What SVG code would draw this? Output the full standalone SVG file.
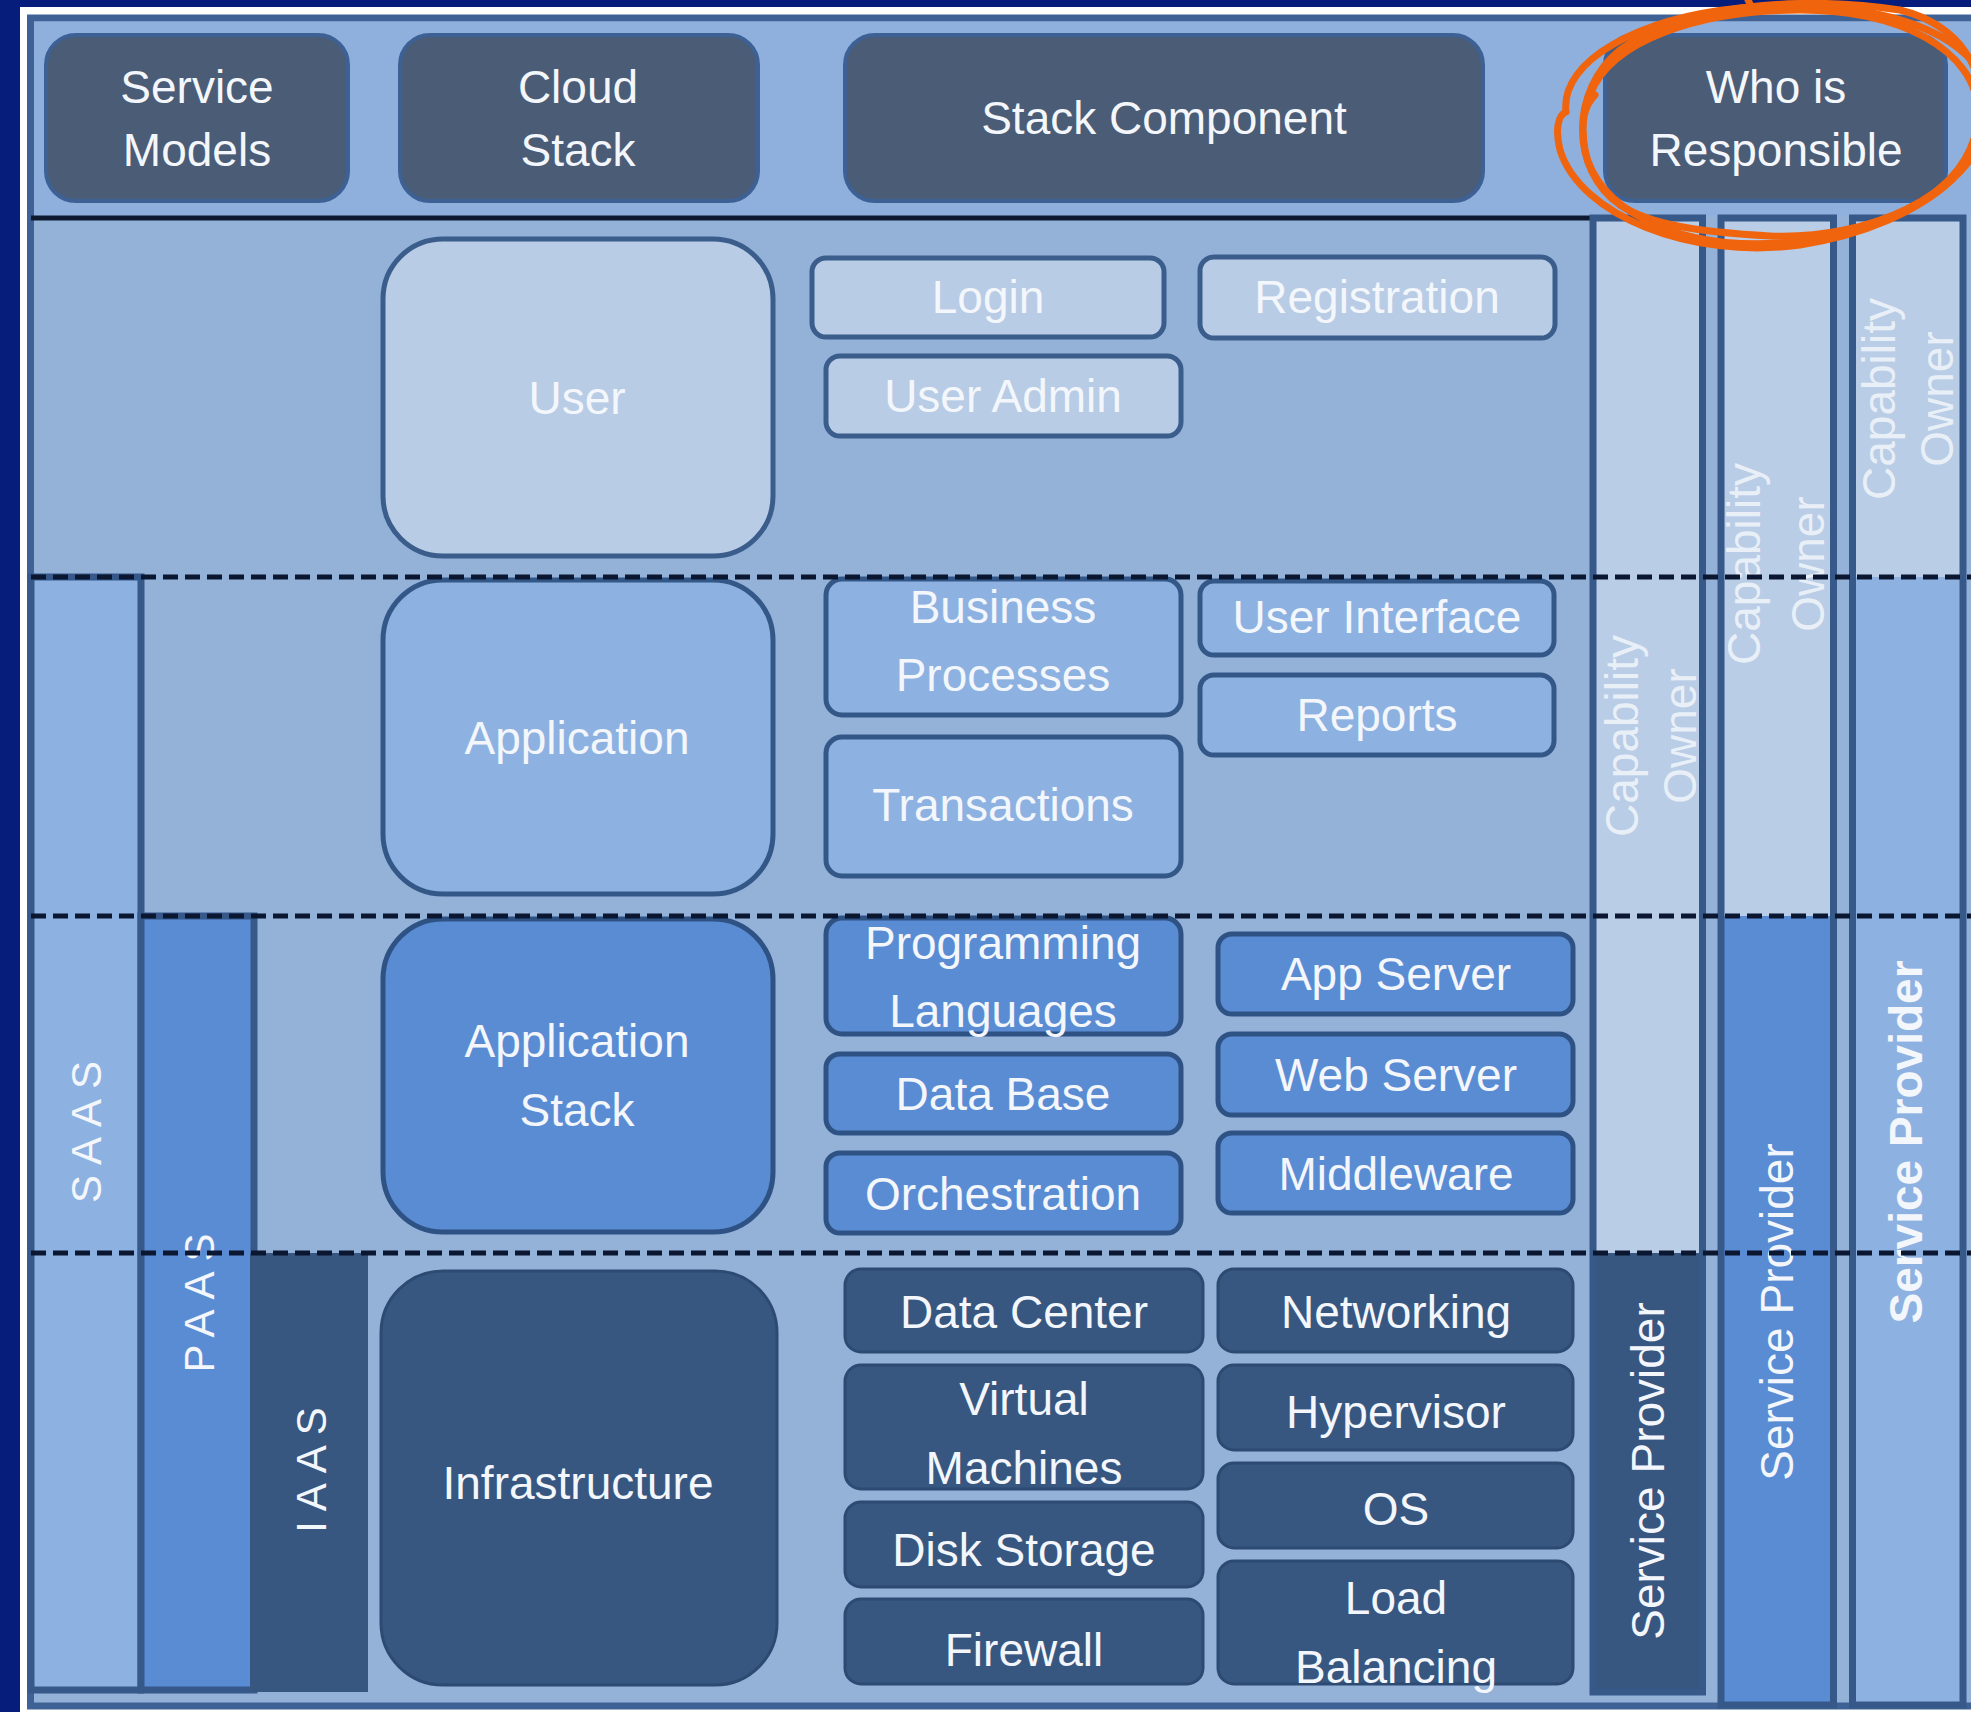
<svg xmlns="http://www.w3.org/2000/svg" width="1971" height="1712" viewBox="0 0 1971 1712">
  <style>
    text { font-family: "Liberation Sans", Arial, sans-serif; font-size: 46px; fill: #f3f6fb; text-anchor: middle; dominant-baseline: central; }
    .hdr { fill: #4a5c76; stroke: #3d6194; stroke-width: 4; }
    .lite { fill: #b9cce6; stroke: #3a5d8c; stroke-width: 5; }
    .mid { fill: #8db2e1; stroke: #335888; stroke-width: 5; }
    .blue { fill: #5a8cd4; stroke: #2f5284; stroke-width: 5; }
    .dark { fill: #375781; stroke: #2d4a72; stroke-width: 3; }
    .edge { fill: none; stroke: #37598a; stroke-width: 7; }
    .dash { fill: none; stroke: #0b1630; stroke-width: 5; stroke-dasharray: 15 7; }
    .faint { fill: #ffffff; fill-opacity: 0.7; }
    .spaced { font-size: 42px; letter-spacing: 10px; }
    .scribble { fill: none; stroke: #f1640e; stroke-width: 7; stroke-linecap: round; stroke-linejoin: round; }
  </style>

  <!-- slide frame -->
  <rect x="0" y="0" width="1971" height="1712" fill="#061d7c"/>
  <rect x="20" y="7" width="1951" height="1705" fill="#ffffff"/>
  <rect x="30.5" y="18" width="1960" height="1688" fill="#94b1d8" stroke="#3e6296" stroke-width="7"/>
  <rect x="34" y="21.5" width="1937" height="194" fill="#8fb0dc"/>
  <line x1="31" y1="218" x2="1592" y2="218" stroke="#0e1a30" stroke-width="5"/>

  <!-- header cells -->
  <g id="hdr-service-models">
    <rect class="hdr" x="46" y="35" width="302" height="166" rx="30"/>
    <text x="197" y="87">Service</text>
    <text x="197" y="150">Models</text>
  </g>
  <g id="hdr-cloud-stack">
    <rect class="hdr" x="400" y="35" width="358" height="166" rx="30"/>
    <text x="578" y="87">Cloud</text>
    <text x="578" y="150">Stack</text>
  </g>
  <g id="hdr-stack-component">
    <rect class="hdr" x="845" y="35" width="638" height="166" rx="30"/>
    <text x="1164" y="118">Stack Component</text>
  </g>
  <g id="hdr-who-is-responsible">
    <rect class="hdr" x="1605" y="35" width="341" height="166" rx="30"/>
    <text x="1776" y="87">Who is</text>
    <text x="1776" y="150">Responsible</text>
  </g>

  <!-- service model bands -->
  <g id="saas">
    <rect x="31" y="577" width="110" height="1113" fill="#8db2e1" stroke="#37598a" stroke-width="7"/>
    <text class="spaced" transform="translate(86,1132) rotate(-90)" x="5">SAAS</text>
  </g>
  <g id="paas">
    <rect x="141" y="916" width="113" height="774" fill="#5a8cd4" stroke="#37598a" stroke-width="7"/>
    <text class="spaced" transform="translate(199,1303) rotate(-90)" x="5">PAAS</text>
  </g>
  <g id="iaas">
    <rect x="250" y="1253" width="118" height="439" fill="#375781"/>
    <text class="spaced" transform="translate(311,1470) rotate(-90)" x="5">IAAS</text>
  </g>

  <!-- User layer -->
  <g id="user">
    <rect class="lite" x="383" y="239" width="390" height="317" rx="60"/>
    <text x="577" y="398">User</text>
  </g>
  <g id="login">
    <rect class="lite" x="812" y="258" width="352" height="79" rx="14"/>
    <text x="988" y="297">Login</text>
  </g>
  <g id="registration">
    <rect class="lite" x="1200" y="257" width="355" height="81" rx="14"/>
    <text x="1377" y="297">Registration</text>
  </g>
  <g id="user-admin">
    <rect class="lite" x="826" y="356" width="355" height="80" rx="14"/>
    <text x="1003" y="396">User Admin</text>
  </g>

  <!-- Application layer -->
  <g id="application">
    <rect class="mid" x="383" y="580" width="390" height="314" rx="60"/>
    <text x="577" y="738">Application</text>
  </g>
  <g id="business-processes">
    <rect class="mid" x="826" y="579" width="355" height="136" rx="16"/>
    <text x="1003" y="607">Business</text>
    <text x="1003" y="675">Processes</text>
  </g>
  <g id="transactions">
    <rect class="mid" x="826" y="737" width="355" height="139" rx="16"/>
    <text x="1003" y="805">Transactions</text>
  </g>
  <g id="user-interface">
    <rect class="mid" x="1200" y="581" width="354" height="74" rx="14"/>
    <text x="1377" y="617">User Interface</text>
  </g>
  <g id="reports">
    <rect class="mid" x="1200" y="675" width="354" height="80" rx="14"/>
    <text x="1377" y="715">Reports</text>
  </g>

  <!-- Application Stack layer -->
  <g id="application-stack">
    <rect class="blue" x="383" y="919" width="390" height="313" rx="60"/>
    <text x="577" y="1041">Application</text>
    <text x="577" y="1110">Stack</text>
  </g>
  <g id="programming-languages">
    <rect class="blue" x="826" y="918" width="355" height="116" rx="16"/>
    <text x="1003" y="943">Programming</text>
    <text x="1003" y="1011">Languages</text>
  </g>
  <g id="data-base">
    <rect class="blue" x="826" y="1054" width="355" height="79" rx="14"/>
    <text x="1003" y="1094">Data Base</text>
  </g>
  <g id="orchestration">
    <rect class="blue" x="826" y="1153" width="355" height="80" rx="14"/>
    <text x="1003" y="1194">Orchestration</text>
  </g>
  <g id="app-server">
    <rect class="blue" x="1218" y="934" width="355" height="80" rx="14"/>
    <text x="1396" y="974">App Server</text>
  </g>
  <g id="web-server">
    <rect class="blue" x="1218" y="1034" width="355" height="81" rx="14"/>
    <text x="1396" y="1075">Web Server</text>
  </g>
  <g id="middleware">
    <rect class="blue" x="1218" y="1133" width="355" height="80" rx="14"/>
    <text x="1396" y="1174">Middleware</text>
  </g>

  <!-- Infrastructure layer -->
  <g id="infrastructure">
    <rect class="dark" x="381" y="1271" width="396" height="414" rx="62"/>
    <text x="578" y="1483">Infrastructure</text>
  </g>
  <g id="data-center">
    <rect class="dark" x="845" y="1269" width="358" height="83" rx="16"/>
    <text x="1024" y="1312">Data Center</text>
  </g>
  <g id="virtual-machines">
    <rect class="dark" x="845" y="1365" width="358" height="124" rx="16"/>
    <text x="1024" y="1399">Virtual</text>
    <text x="1024" y="1468">Machines</text>
  </g>
  <g id="disk-storage">
    <rect class="dark" x="845" y="1502" width="358" height="85" rx="16"/>
    <text x="1024" y="1550">Disk Storage</text>
  </g>
  <g id="firewall">
    <rect class="dark" x="845" y="1599" width="358" height="85" rx="16"/>
    <text x="1024" y="1650">Firewall</text>
  </g>
  <g id="networking">
    <rect class="dark" x="1218" y="1269" width="355" height="83" rx="16"/>
    <text x="1396" y="1312">Networking</text>
  </g>
  <g id="hypervisor">
    <rect class="dark" x="1218" y="1365" width="355" height="85" rx="16"/>
    <text x="1396" y="1412">Hypervisor</text>
  </g>
  <g id="os">
    <rect class="dark" x="1218" y="1463" width="355" height="85" rx="16"/>
    <text x="1396" y="1509">OS</text>
  </g>
  <g id="load-balancing">
    <rect class="dark" x="1218" y="1561" width="355" height="123" rx="16"/>
    <text x="1396" y="1598">Load</text>
    <text x="1396" y="1667">Balancing</text>
  </g>

  <!-- responsibility columns: IaaS, PaaS, SaaS -->
  <g id="resp-iaas">
    <rect x="1593" y="218" width="109.5" height="1035" fill="#b9cde6"/>
    <rect x="1593" y="1253" width="109.5" height="439" fill="#375781"/>
    <rect class="edge" x="1593" y="218" width="109.5" height="1474"/>
    <text class="faint" transform="translate(1651,736) rotate(-90)"><tspan x="0" y="-29">Capability</tspan><tspan x="0" y="29">Owner</tspan></text>
    <text transform="translate(1648,1471) rotate(-90)">Service  Provider</text>
  </g>
  <g id="resp-paas">
    <rect x="1721" y="218" width="112.5" height="698" fill="#b9cde6"/>
    <rect x="1721" y="916" width="112.5" height="789" fill="#5a8cd4"/>
    <rect class="edge" x="1721" y="218" width="112.5" height="1487"/>
    <text class="faint" transform="translate(1776,564) rotate(-90)"><tspan x="0" y="-32">Capability</tspan><tspan x="0" y="32">Owner</tspan></text>
    <text transform="translate(1777,1312) rotate(-90)">Service Provider</text>
  </g>
  <g id="resp-saas">
    <rect x="1852.5" y="218" width="110.5" height="359" fill="#b9cde6"/>
    <rect x="1852.5" y="577" width="110.5" height="1128" fill="#8db2e1"/>
    <rect class="edge" x="1852.5" y="218" width="110.5" height="1487"/>
    <text class="faint" transform="translate(1908,399) rotate(-90)"><tspan x="0" y="-29">Capability</tspan><tspan x="0" y="29">Owner</tspan></text>
    <text font-weight="bold" transform="translate(1906,1142) rotate(-90)">Service Provider</text>
  </g>

  <!-- layer boundaries -->
  <g id="connectors">
    <line class="dash" x1="31" y1="577" x2="1971" y2="577"/>
    <line class="dash" x1="31" y1="916" x2="1971" y2="916"/>
    <line class="dash" x1="31" y1="1253" x2="1971" y2="1253"/>
  </g>

  <!-- hand-drawn emphasis loops -->
  <g id="highlight">
    <path class="scribble" d="M1566,112 C1560,60 1640,18 1740,8 C1850,-2 1955,20 1985,80 C2010,150 1930,225 1800,245 C1690,260 1580,215 1560,150 C1555,130 1558,115 1566,112"/>
    <path class="scribble" d="M1590,95 C1610,40 1700,10 1800,10 C1900,10 1975,50 1978,110 C1980,180 1900,235 1780,243 C1670,250 1595,205 1585,150 C1580,120 1585,105 1595,95"/>
    <path class="scribble" d="M1620,205 C1570,170 1570,90 1620,50 C1680,5 1800,-5 1900,10 C1960,25 1990,70 1980,130 C1965,195 1870,240 1770,236 C1700,232 1650,225 1620,205"/>
    <path class="scribble" d="M1748,0 L1752,8"/>
  </g>
</svg>
